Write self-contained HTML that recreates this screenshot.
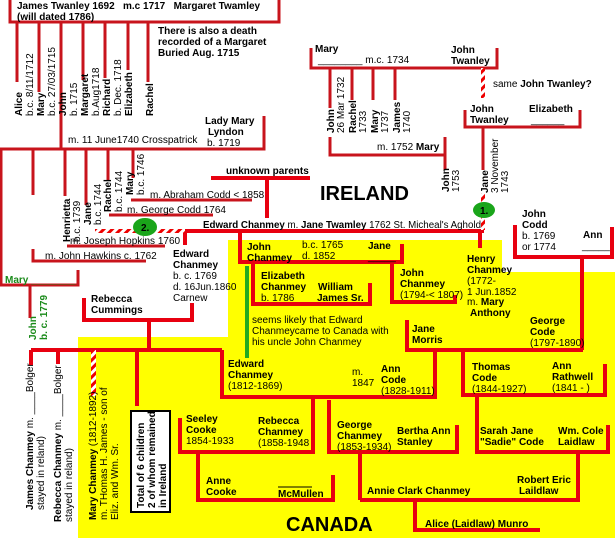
<!DOCTYPE html>
<html><head><meta charset="utf-8"><style>
html,body{margin:0;padding:0;background:#fff;width:615px;height:540px;overflow:hidden}
svg{display:block}
text{font-family:"Liberation Sans",sans-serif;font-size:10px;fill:#000}
.b{font-weight:bold}
.g{fill:#1a8a1a;font-weight:bold}
</style></head><body>
<svg width="615" height="540" viewBox="0 0 615 540">
<defs>
<pattern id="hatch" width="6" height="6" patternUnits="userSpaceOnUse" patternTransform="rotate(45)">
<rect width="6" height="6" fill="#fff"/><rect width="3" height="6" fill="#e00"/></pattern>
</defs>
<polygon points="228,240 502,240 502,272 615,272 615,538 78,538 78,337 228,337" fill="#ffff00"/>

<g stroke="#c8141c" stroke-width="3" fill="none">
<path d="M10,0V22H279V0"/>
<path d="M17,22V82M39,22V92M61,22V149M83,22V80M105,22V78M128,22V70M148,22V82"/>
<path d="M264,116V149H0M1,149V285H78V270M33,149V195M65,149V196M86,149V205M108,149V180M133,149V178"/>
<path d="M131,200H252M109,215H213M67,246H165M33,249V261H146"/>
<path d="M311,48V68H497V48M330,68V108M352,68V100M373,68V100M395,68V100"/>
<path d="M330,137V155H445V137M445,155V170"/>
<path d="M465,110V127H580V110M483,127V170"/>
<path d="M30,285V318"/>
</g>
<g stroke="#e80010" stroke-width="4" fill="none">
<path d="M211,178H310M267,178V218"/>
<path d="M185,231H484M185,231V245M480,231V248"/>
<path d="M240,232V262H402V244"/>
<path d="M253,263V304H370V283"/>
<path d="M392,263V302H455V295"/>
<path d="M515,225V257H612V227M582,257V350"/>
<path d="M84,298V320H192V303M149,320V350"/>
<path d="M31,350H222M31,350V365M58,350V364M137,350V406M222,350V397H435V352"/>
<path d="M407,320V350H583M463,350V395H605V364"/>
<path d="M477,395V452H608V425M578,452V500H360M360,452V500"/>
<path d="M329,400V452H457V425M415,500V530H540"/>
<path d="M313,398V452H180V418M198,452V500H333V475"/>
</g>
<rect x="91" y="350" width="5" height="46" fill="url(#hatch)"/>
<rect x="95" y="229" width="90" height="4" fill="url(#hatch)"/>
<rect x="481" y="68" width="4" height="30" fill="url(#hatch)"/>
<rect x="481" y="193" width="4" height="37" fill="url(#hatch)"/>
<line x1="247" y1="266" x2="247" y2="358" stroke="#22aa22" stroke-width="4"/>
<ellipse cx="145" cy="227" rx="12" ry="9" fill="#1aa51a"/>
<text x="141" y="231" class="b">2.</text>
<ellipse cx="484" cy="210" rx="11" ry="8" fill="#1aa51a"/>
<text x="480" y="214" class="b">1.</text>
<rect x="131" y="411" width="39" height="101" fill="#fff" stroke="#000" stroke-width="2"/>

<text x="17" y="9" class="b">James Twanley 1692 &#160; m.c 1717 &#160; Margaret Twamley</text>
<text x="17" y="20" class="b">(will dated 1786)</text>
<text x="158" y="34" class="b">There is also a death</text>
<text x="158" y="45" class="b">recorded of a Margaret</text>
<text x="158" y="56" class="b">Buried Aug. 1715</text>

<text transform="translate(22,116) rotate(-90)" class="b">Alice</text>
<text transform="translate(33,116) rotate(-90)">b.c. 8/11/1712</text>
<text transform="translate(44,116) rotate(-90)" class="b">Mary</text>
<text transform="translate(55,116) rotate(-90)">b.c. 27/03/1715</text>
<text transform="translate(66,116) rotate(-90)" class="b">John</text>
<text transform="translate(77,116) rotate(-90)">b. 1715</text>
<text transform="translate(88,116) rotate(-90)" class="b">Margaret</text>
<text transform="translate(99,116) rotate(-90)">b.Aug1718</text>
<text transform="translate(110,116) rotate(-90)" class="b">Richard</text>
<text transform="translate(121,116) rotate(-90)">b. Dec. 1718</text>
<text transform="translate(132,116) rotate(-90)" class="b">Elizabeth</text>
<text transform="translate(153,116) rotate(-90)" class="b">Rachel</text>
<text x="205" y="124" class="b">Lady Mary</text>
<text x="208" y="135" class="b">Lyndon</text>
<text x="207" y="146">b. 1719</text>
<text x="68" y="143">m. 11 June1740 Crosspatrick</text>

<text transform="translate(70,242) rotate(-90)" class="b">Henrietta</text>
<text transform="translate(80,242) rotate(-90)">b.c. 1739</text>
<text transform="translate(91,225) rotate(-90)" class="b">Jane</text>
<text transform="translate(101,225) rotate(-90)">b.c. 1744</text>
<text transform="translate(111,212) rotate(-90)" class="b">Rachel</text>
<text transform="translate(122,212) rotate(-90)">b.c. 1744</text>
<text transform="translate(133,195) rotate(-90)" class="b">Mary</text>
<text transform="translate(144,195) rotate(-90)">b.c. 1746</text>
<text x="150" y="198">m. Abraham Codd  &lt; 1858</text>
<text x="127" y="213">m. George Codd 1764</text>
<text x="70" y="244">m. Joseph Hopkins 1760</text>
<text x="45" y="259">m. John Hawkins c. 1762</text>

<text x="226" y="174" class="b">unknown parents</text>
<text x="320" y="200" class="b" style="font-size:20px">IRELAND</text>
<text x="203" y="228" textLength="278" lengthAdjust="spacingAndGlyphs"><tspan class="b">Edward Chanmey</tspan> m. <tspan class="b">Jane Twamley</tspan> 1762 St. Micheal's Aghold</text>

<text x="315" y="52" class="b">Mary</text>
<text x="318" y="63">________ m.c. 1734</text>
<text x="451" y="53" class="b">John</text>
<text x="451" y="64" class="b">Twanley</text>
<text transform="translate(334,133) rotate(-90)" class="b">John</text>
<text transform="translate(344,133) rotate(-90)">26 Mar 1732</text>
<text transform="translate(356,133) rotate(-90)" class="b">Rachel</text>
<text transform="translate(366,133) rotate(-90)">1733</text>
<text transform="translate(378,133) rotate(-90)" class="b">Mary</text>
<text transform="translate(388,133) rotate(-90)">1737</text>
<text transform="translate(400,133) rotate(-90)" class="b">James</text>
<text transform="translate(410,133) rotate(-90)">1740</text>
<text x="377" y="150">m. 1752 <tspan class="b">Mary</tspan></text>
<text transform="translate(449,192) rotate(-90)" class="b">John</text>
<text transform="translate(459,192) rotate(-90)">1753</text>
<text x="493" y="87">same <tspan class="b">John Twanley?</tspan></text>
<text x="470" y="112" class="b">John</text>
<text x="470" y="123" class="b">Twanley</text>
<text x="529" y="112" class="b">Elizabeth</text>
<text x="531" y="123">______</text>
<text transform="translate(488,193) rotate(-90)" class="b">Jane</text>
<text transform="translate(498,193) rotate(-90)">3 November</text>
<text transform="translate(508,193) rotate(-90)">1743</text>

<text x="522" y="217" class="b">John</text>
<text x="522" y="228" class="b">Codd</text>
<text x="522" y="239">b. 1769</text>
<text x="522" y="250">or 1774</text>
<text x="583" y="238" class="b">Ann</text>
<text x="582" y="249">_____</text>

<text x="173" y="257" class="b">Edward</text>
<text x="173" y="268" class="b">Chanmey</text>
<text x="173" y="279">b. c. 1769</text>
<text x="173" y="290">d. 16Jun.1860</text>
<text x="173" y="301">Carnew</text>

<text x="247" y="250" class="b">John</text>
<text x="247" y="261" class="b">Chanmey</text>
<text x="302" y="248">b.c. 1765</text>
<text x="302" y="259">d. 1852</text>
<text x="368" y="249" class="b">Jane</text>
<text x="368" y="260">_____</text>
<text x="467" y="262" class="b">Henry</text>
<text x="467" y="273" class="b">Chanmey</text>
<text x="467" y="284">(1772-</text>
<text x="467" y="295">1 Jun.1852</text>
<text x="467" y="305">m. <tspan class="b">Mary</tspan></text>
<text x="470" y="316" class="b">Anthony</text>
<text x="261" y="279" class="b">Elizabeth</text>
<text x="261" y="290" class="b">Chanmey</text>
<text x="261" y="301">b. 1786</text>
<text x="318" y="290" class="b">William</text>
<text x="317" y="301" class="b">James Sr.</text>
<text x="400" y="276" class="b">John</text>
<text x="400" y="287" class="b">Chanmey</text>
<text x="400" y="298">(1794-&lt; 1807)</text>
<text x="252" y="323">seems likely that Edward</text>
<text x="252" y="334">Chanmeycame to Canada with</text>
<text x="252" y="345">his uncle John Chanmey</text>

<text x="5" y="283" class="g">Mary ________</text>
<text transform="translate(36,340) rotate(-90)" class="g">John</text>
<text transform="translate(47,340) rotate(-90)" class="g">b. c. 1779</text>
<text x="91" y="302" class="b">Rebecca</text>
<text x="91" y="313" class="b">Cummings</text>

<text x="412" y="332" class="b">Jane</text>
<text x="412" y="343" class="b">Morris</text>
<text x="530" y="324" class="b">George</text>
<text x="530" y="335" class="b">Code</text>
<text x="530" y="346">(1797-1890)</text>
<text x="228" y="367" class="b">Edward</text>
<text x="228" y="378" class="b">Chanmey</text>
<text x="228" y="389">(1812-1869)</text>
<text x="352" y="375">m.</text>
<text x="352" y="386">1847</text>
<text x="381" y="372" class="b">Ann</text>
<text x="381" y="383" class="b">Code</text>
<text x="381" y="394">(1828-1911)</text>
<text x="472" y="370" class="b">Thomas</text>
<text x="472" y="381" class="b">Code</text>
<text x="472" y="392">(1844-1927)</text>
<text x="552" y="369" class="b">Ann</text>
<text x="552" y="380" class="b">Rathwell</text>
<text x="552" y="391">(1841 -  )</text>

<text x="186" y="422" class="b">Seeley</text>
<text x="186" y="433" class="b">Cooke</text>
<text x="186" y="444">1854-1933</text>
<text x="258" y="424" class="b">Rebecca</text>
<text x="258" y="435" class="b">Chanmey</text>
<text x="258" y="446">(1858-1948</text>
<text x="337" y="428" class="b">George</text>
<text x="337" y="439" class="b">Chanmey</text>
<text x="337" y="450">(1853-1934)</text>
<text x="397" y="434" class="b">Bertha Ann</text>
<text x="397" y="445" class="b">Stanley</text>
<text x="480" y="434" class="b">Sarah Jane</text>
<text x="480" y="445" class="b">"Sadie" Code</text>
<text x="558" y="434" class="b">Wm. Cole</text>
<text x="558" y="445" class="b">Laidlaw</text>
<text x="206" y="484" class="b">Anne</text>
<text x="206" y="495" class="b">Cooke</text>
<line x1="278" y1="487" x2="312" y2="487" stroke="#000" stroke-width="1"/>
<text x="278" y="497" class="b">McMullen</text>
<text x="517" y="483" class="b">Robert Eric</text>
<text x="519" y="494" class="b">Laildlaw</text>
<text x="367" y="494" class="b">Annie Clark Chanmey</text>
<text x="425" y="527" class="b">Alice (Laidlaw) Munro</text>
<text x="286" y="531" class="b" style="font-size:20px">CANADA</text>

<text transform="translate(33,510) rotate(-90)"><tspan class="b">James Chanmey</tspan> m. ____Bolger</text>
<text transform="translate(44,510) rotate(-90)">stayed in reland)</text>
<text transform="translate(61,522) rotate(-90)"><tspan class="b">Rebecca Chanmey</tspan> m. ____Bolger</text>
<text transform="translate(72,522) rotate(-90)">stayed in reland)</text>
<text transform="translate(96,520) rotate(-90)"><tspan class="b">Mary Chanmey</tspan> (1812-1892)</text>
<text transform="translate(107,520) rotate(-90)">m. THomas H. James - son of</text>
<text transform="translate(118,520) rotate(-90)">Eliz. and Wm. Sr.</text>
<text transform="translate(144,508) rotate(-90)" class="b">Total of 6 children</text>
<text transform="translate(155,508) rotate(-90)" class="b">2 of whom remained</text>
<text transform="translate(166,508) rotate(-90)" class="b">in Ireland</text>
</svg>
</body></html>
